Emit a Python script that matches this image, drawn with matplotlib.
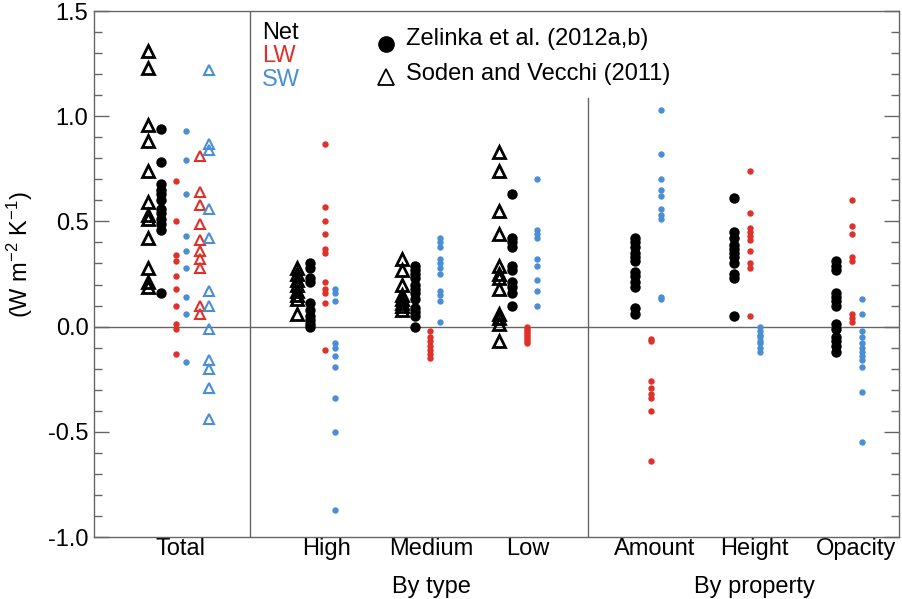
import matplotlib
matplotlib.use("Agg")
import matplotlib.pyplot as plt
from matplotlib.ticker import MultipleLocator

plt.rcParams['font.family'] = ['Liberation Sans', 'DejaVu Sans']
plt.rcParams['mathtext.fontset'] = 'custom'
plt.rcParams['mathtext.rm'] = 'Liberation Sans'
plt.rcParams['mathtext.it'] = 'Liberation Sans:italic'
plt.rcParams['mathtext.bf'] = 'Liberation Sans:bold'

# ---------------- data ----------------
categories = ["Total", "High", "Medium", "Low", "Amount", "Height", "Opacity"]
group_labels = ["By type", "By property"]

# Total
total_net_zel = [0.94, 0.78, 0.68, 0.65, 0.63, 0.60, 0.56, 0.54, 0.51, 0.49, 0.46, 0.16]
total_lw_zel = [0.69, 0.50, 0.34, 0.31, 0.24, 0.18, 0.10, 0.01, -0.01, -0.13]
total_sw_zel = [0.93, 0.79, 0.63, 0.43, 0.36, 0.28, 0.14, 0.06, -0.17]
total_net_sv = [1.31, 1.23, 0.96, 0.88, 0.74, 0.59, 0.53, 0.51, 0.42, 0.28, 0.21, 0.19]
total_lw_sv = [0.81, 0.64, 0.58, 0.49, 0.41, 0.36, 0.32, 0.28, 0.10, 0.06]
total_sw_sv = [1.22, 0.87, 0.84, 0.56, 0.42, 0.17, 0.10, -0.01, -0.16, -0.20, -0.29, -0.44]

# By type
high_net_zel = [0.30, 0.28, 0.23, 0.21, 0.11, 0.08, 0.05, 0.03, 0.01, 0.00]
high_lw_zel = [0.87, 0.57, 0.50, 0.44, 0.37, 0.35, 0.21, 0.18, 0.16, 0.11, -0.11]
high_sw_zel = [0.18, 0.16, 0.12, -0.08, -0.10, -0.14, -0.19, -0.34, -0.50, -0.87]
high_net_sv = [0.28, 0.25, 0.22, 0.20, 0.17, 0.15, 0.13, 0.06]

medium_net_zel = [0.29, 0.27, 0.25, 0.23, 0.20, 0.18, 0.16, 0.13, 0.09, 0.07, 0.05, 0.00]
medium_lw_zel = [-0.02, -0.05, -0.07, -0.09, -0.11, -0.13, -0.15]
medium_sw_zel = [0.42, 0.40, 0.38, 0.32, 0.30, 0.28, 0.25, 0.17, 0.15, 0.12, 0.02]
medium_net_sv = [0.32, 0.27, 0.20, 0.15, 0.13, 0.11, 0.10, 0.08]

low_net_zel = [0.63, 0.42, 0.40, 0.38, 0.29, 0.27, 0.21, 0.19, 0.16, 0.10]
low_lw_zel = [0.00, -0.01, -0.02, -0.03, -0.04, -0.05, -0.06, -0.07, -0.08]
low_sw_zel = [0.70, 0.46, 0.44, 0.42, 0.32, 0.29, 0.22, 0.17, 0.10]
low_net_sv = [0.83, 0.74, 0.55, 0.44, 0.29, 0.25, 0.23, 0.18, 0.06, 0.04, 0.01, -0.07]

# By property
amount_net_zel = [0.42, 0.40, 0.38, 0.35, 0.33, 0.31, 0.26, 0.24, 0.21, 0.19, 0.09, 0.06]
amount_lw_zel = [-0.06, -0.07, -0.26, -0.29, -0.32, -0.34, -0.40, -0.64]
amount_sw_zel = [1.03, 0.82, 0.70, 0.65, 0.62, 0.56, 0.53, 0.51, 0.14, 0.13]

height_net_zel = [0.61, 0.45, 0.42, 0.39, 0.37, 0.35, 0.33, 0.30, 0.25, 0.23, 0.05]
height_lw_zel = [0.74, 0.54, 0.47, 0.45, 0.43, 0.41, 0.36, 0.30, 0.28, 0.05]
height_sw_zel = [0.00, -0.02, -0.04, -0.05, -0.07, -0.08, -0.10, -0.12]

opacity_net_zel = [0.31, 0.29, 0.27, 0.16, 0.14, 0.12, 0.10, 0.01, -0.01, -0.05, -0.07, -0.09, -0.12]
opacity_lw_zel = [0.60, 0.48, 0.44, 0.33, 0.31, 0.06, 0.04, 0.02]
opacity_sw_zel = [0.13, 0.06, -0.02, -0.05, -0.08, -0.10, -0.12, -0.14, -0.16, -0.19, -0.31, -0.55]

# ---------------- layout ----------------
RED = '#E0302A'
BLUE = '#4A8ED6'
BLACK = '#000000'
FRAME = '#666666'
FS = 17

W, H = 902, 599
fig = plt.figure(figsize=(W / 100, H / 100), dpi=100)
L, R, T, B = 94, 899, 11, 537
ax = fig.add_axes([L / W, 1 - B / H, (R - L) / W, (B - T) / H])
ax.set_xlim(L, R)
ax.set_ylim(-1.0, 1.5)

# column positions (x, in figure pixel units) for each category
cat_x = {"Total": 180, "High": 326, "Medium": 431, "Low": 528,
         "Amount": 655, "Height": 754, "Opacity": 856}
# offsets: net tri, net circle, lw circle, sw circle, lw tri, sw tri
off_total = dict(net_sv=-32, net=-19, lw=-4, sw=6, lw_sv=20, sw_sv=29)
off_type = dict(net_sv=-29, net=-16, lw=-1, sw=9)
off_prop = dict(net=-20, lw=-4, sw=6)


def circles(x, vals, color, big=False):
    ax.plot([x] * len(vals), vals, linestyle='none', marker='o',
            ms=7.5 if big else 4.6, mfc=color, mec=color, mew=0,
            zorder=4, clip_on=False)


def triangles(x, vals, color, big=False):
    ax.plot([x] * len(vals), vals, linestyle='none', marker='^',
            ms=8.5 if big else 6.5, mfc='none', mec=color,
            mew=2.0 if big else 1.5, zorder=5, clip_on=False)


# Total
cx = cat_x["Total"]
triangles(cx + off_total['net_sv'], total_net_sv, BLACK, big=True)
circles(cx + off_total['net'], total_net_zel, BLACK, big=True)
circles(cx + off_total['lw'], total_lw_zel, RED)
circles(cx + off_total['sw'], total_sw_zel, BLUE)
triangles(cx + off_total['lw_sv'], total_lw_sv, RED)
triangles(cx + off_total['sw_sv'], total_sw_sv, BLUE)

type_sets = [("High", high_net_sv, high_net_zel, high_lw_zel, high_sw_zel),
             ("Medium", medium_net_sv, medium_net_zel, medium_lw_zel, medium_sw_zel),
             ("Low", low_net_sv, low_net_zel, low_lw_zel, low_sw_zel)]
for name, nsv, n, lw, sw in type_sets:
    cx = cat_x[name]
    triangles(cx + off_type['net_sv'], nsv, BLACK, big=True)
    circles(cx + off_type['net'], n, BLACK, big=True)
    circles(cx + off_type['lw'], lw, RED)
    circles(cx + off_type['sw'], sw, BLUE)

prop_sets = [("Amount", amount_net_zel, amount_lw_zel, amount_sw_zel),
             ("Height", height_net_zel, height_lw_zel, height_sw_zel),
             ("Opacity", opacity_net_zel, opacity_lw_zel, opacity_sw_zel)]
for name, n, lw, sw in prop_sets:
    cx = cat_x[name]
    circles(cx + off_prop['net'], n, BLACK, big=True)
    circles(cx + off_prop['lw'], lw, RED)
    circles(cx + off_prop['sw'], sw, BLUE)

# zero line and separators
ax.axhline(0, color=FRAME, lw=1.0, zorder=1)
ax.axvline(250, color=FRAME, lw=1.0, zorder=1)
ax.plot([588, 588], [-1.0, 1.085], color=FRAME, lw=1.0, zorder=1)

# axes styling
for s in ax.spines.values():
    s.set_color(FRAME)
    s.set_linewidth(1.0)
ax.yaxis.set_major_locator(MultipleLocator(0.5))
ax.yaxis.set_minor_locator(MultipleLocator(0.1))
ax.tick_params(axis='y', which='major', direction='in', length=11, width=1.0,
               color=FRAME, labelsize=FS, left=True, right=True, pad=4)
ax.tick_params(axis='y', which='minor', direction='in', length=6, width=1.0,
               color=FRAME, left=True, right=True)
ax.set_yticks([-1.0, -0.5, 0.0, 0.5, 1.0, 1.5])
ax.set_yticklabels(["-1.0", "-0.5", "0.0", "0.5", "1.0", "1.5"])
ax.set_xticks([cat_x[c] for c in categories])
ax.set_xticklabels(categories, fontsize=FS)
ax.tick_params(axis='x', length=0, pad=0.5)

ax.text(431, -1.266, group_labels[0], ha='center', va='baseline', fontsize=FS)
ax.text(754, -1.266, group_labels[1], ha='center', va='baseline', fontsize=FS)

fig.text(20 / W, 1 - 255 / H, r"(W m$^{\mathrm{-2}}$ K$^{\mathrm{-1}}$)", rotation=90,
         ha='center', va='center', fontsize=FS)

# legend texts
ax.text(262, 1.366, "Net", color=BLACK, fontsize=FS, va='baseline', ha='left')
ax.text(262, 1.257, "LW", color=RED, fontsize=FS, va='baseline', ha='left')
ax.text(262, 1.144, "SW", color=BLUE, fontsize=FS, va='baseline', ha='left')
ax.plot([385.5], [1.343], marker='o', ms=11, color=BLACK, linestyle='none', clip_on=False)
ax.plot([385.5], [1.186], marker='^', ms=11.5, mfc='none', mec=BLACK, mew=1.3,
        linestyle='none', clip_on=False)
ax.text(406, 1.338, "Zelinka et al. (2012a,b)", fontsize=FS, va='baseline', ha='left')
ax.text(406, 1.172, "Soden and Vecchi (2011)", fontsize=FS, va='baseline', ha='left')

fig.savefig("out.png", dpi=100)
